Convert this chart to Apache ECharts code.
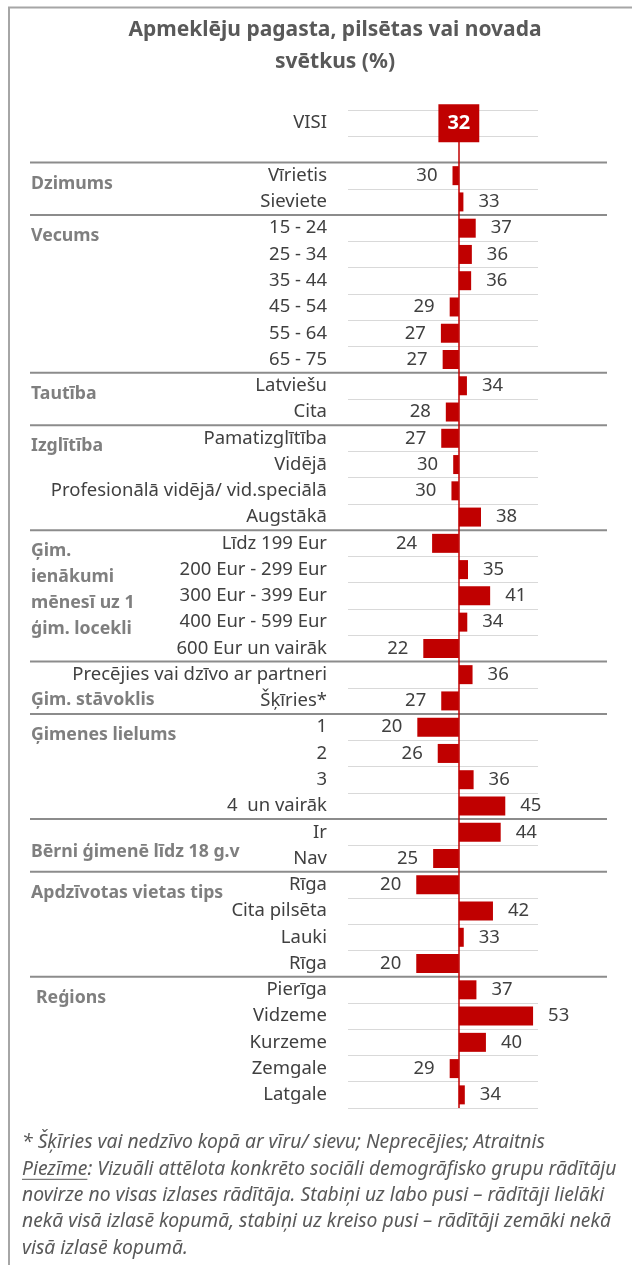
<!DOCTYPE html>
<html lang="lv">
<head>
<meta charset="UTF-8">
<title>Apmeklēju pagasta, pilsētas vai novada svētkus</title>
<style>
  html, body { margin: 0; padding: 0; background: #fff; }
  #chart { width: 632px; height: 1265px; }
</style>
</head>
<body>
<div id="chart"></div>

<script src="https://cdn.jsdelivr.net/npm/echarts@6/dist/echarts.min.js"></script>
<script>
    // dati
    var categories = ['VISI', '', 'Vīrietis', 'Sieviete', '15 - 24', '25 - 34', '35 - 44', '45 - 54', '55 - 64', '65 - 75',
        'Latviešu', 'Cita', 'Pamatizglītība', 'Vidējā', 'Profesionālā vidējā/ vid.speciālā', 'Augstākā',
        'Līdz 199 Eur', '200 Eur - 299 Eur', '300 Eur - 399 Eur', '400 Eur - 599 Eur', '600 Eur un vairāk',
        'Precējies vai dzīvo ar partneri', 'Šķīries*', '1', '2', '3', '4  un vairāk', 'Ir', 'Nav',
        'Rīga', 'Cita pilsēta', 'Lauki', 'Rīga', 'Pierīga', 'Vidzeme', 'Kurzeme', 'Zemgale', 'Latgale'];
    var values = [32, null, 30.2, 33.3, 36.8, 35.7, 35.5, 29.4, 26.9, 27.4,
        34.3, 28.3, 27.0, 30.4, 29.9, 38.3,
        24.4, 34.6, 40.9, 34.4, 21.9,
        35.9, 27.0, 20.2, 26.0, 36.2, 45.2, 43.9, 24.7,
        19.9, 41.7, 33.4, 19.9, 37.0, 53.1, 39.7, 29.4, 33.7];
    var visi = 32;

    var groupNames = ['Dzimums', 'Vecums', 'Tautība', 'Izglītība', 'Ģim.\nienākumi\nmēnesī uz 1\nģim. locekli',
        'Ģim. stāvoklis', 'Ģimenes lielums', 'Bērni ģimenē līdz 18 g.v', 'Apdzīvotas vietas tips', 'Reģions'];
    var groupStart = [2, 4, 10, 12, 16, 21, 23, 27, 29, 33];

    var titleLines = ['Apmeklēju pagasta, pilsētas vai novada', 'svētkus (%)'];
    var notes = [
        '* Šķīries vai nedzīvo kopā ar vīru/ sievu; Neprecējies; Atraitnis',
        'Piezīme: Vizuāli attēlota konkrēto sociāli demogrāfisko grupu rādītāju',
        'novirze no visas izlases rādītāja. Stabiņi uz labo pusi – rādītāji lielāki',
        'nekā visā izlasē kopumā, stabiņi uz kreiso pusi – rādītāji zemāki nekā',
        'visā izlasē kopumā.'
    ];

    var FONT = '"Noto Sans", "Open Sans", sans-serif';
    var RED = '#c00000';

    var chart = echarts.init(document.getElementById('chart'));

    var barData = values.map(function (v, i) {
        if (v === null) return '-';
        if (i === 0) {
            return {
                value: 0,
                label: {
                    position: 'inside', color: '#fff', fontWeight: 'bold', fontSize: 20, lineHeight: 20,
                    backgroundColor: RED, padding: [9, 9, 9, 9], distance: 0
                }
            };
        }
        var d = v - visi;
        return { value: d, label: { position: d < 0 ? 'left' : 'right' } };
    });

    chart.setOption({
        animation: false,
        grid: { left: 348, right: 94, top: 110, bottom: 157 },
        xAxis: { type: 'value', min: -31.5, max: 22.5, show: false },
        yAxis: {
            type: 'category',
            inverse: true,
            data: categories,
            axisLine: { show: false },
            axisTick: { show: false },
            axisLabel: { color: '#404040', fontSize: 18.5, fontFamily: FONT, margin: 21, interval: 0 },
            splitLine: { show: true, interval: 0, lineStyle: { color: '#d9d9d9', width: 1 } }
        },
        series: [{
            type: 'bar',
            z: 4,
            barWidth: 19,
            data: barData,
            itemStyle: { color: RED },
            label: {
                show: true,
                distance: 15,
                color: '#404040',
                fontSize: 18.5,
                fontFamily: FONT,
                formatter: function (p) { return Math.round(values[p.dataIndex]); }
            },
            markLine: {
                z: 3,
                silent: true,
                symbol: ['none', 'none'],
                label: { show: false },
                lineStyle: { color: RED, width: 1.5, type: 'solid' },
                data: [{ xAxis: 0 }]
            }
        }]
    });

    // grupu nosaukumi un atdalītāji
    function rowY(i) { return chart.convertToPixel({ yAxisIndex: 0 }, i); }
    var rowH = rowY(1) - rowY(0);
    var groupDy = { 5: 25, 7: 20 };
    var groupDx = { 9: 5 };

    var elements = [];
    elements.push({
        type: 'polyline', z: 1, silent: true,
        shape: { points: [[9, 1265], [9, 7.5], [632, 7.5]] },
        style: { stroke: '#a6a6a6', lineWidth: 2, fill: null }
    });
    titleLines.forEach(function (t, i) {
        elements.push({
            type: 'text', z: 5, x: 335, y: 30 + i * 32,
            style: {
                text: t, fill: '#595959', fontSize: 21, fontWeight: 'bold', fontFamily: FONT,
                align: 'center', verticalAlign: 'middle', textAlign: 'center', textVerticalAlign: 'middle'
            }
        });
    });
    groupStart.forEach(function (s, gi) {
        var yb = rowY(s) - rowH / 2;
        elements.push({
            type: 'line', z: 1, silent: true,
            shape: { x1: 30, y1: yb, x2: 607, y2: yb },
            style: { stroke: '#8c8c8c', lineWidth: 2 }
        });
        var lh = 25.8;
        elements.push({
            type: 'text', z: 5,
            x: 31 + (groupDx[gi] || 0),
            y: rowY(s) + (groupDy[gi] || 8) - lh / 2,
            style: {
                text: groupNames[gi], fill: '#7f7f7f', fontSize: 17.7, fontWeight: 'bold', fontFamily: FONT,
                lineHeight: lh, align: 'left', verticalAlign: 'top', textAlign: 'left', textVerticalAlign: 'top'
            }
        });
    });

    // piezīmes
    var noteSize = 19.3;
    notes.forEach(function (t, i) {
        elements.push({
            type: 'text', z: 5, x: 22, y: 1143 + i * 26.3,
            style: {
                text: t, fill: '#595959', fontSize: noteSize, fontStyle: 'italic', fontFamily: FONT,
                align: 'left', verticalAlign: 'middle', textAlign: 'left', textVerticalAlign: 'middle'
            }
        });
    });
    var ctx = document.createElement('canvas').getContext('2d');
    ctx.font = 'italic ' + noteSize + 'px "Noto Sans"';
    var uw = ctx.measureText('Piezīme').width;
    var uy = 1143 + 26.3 + 10;
    elements.push({
        type: 'line', z: 5, silent: true,
        shape: { x1: 22, y1: uy, x2: 22 + uw, y2: uy },
        style: { stroke: '#595959', lineWidth: 1 }
    });

    chart.setOption({ graphic: { elements: elements } });
</script>
</body>
</html>
